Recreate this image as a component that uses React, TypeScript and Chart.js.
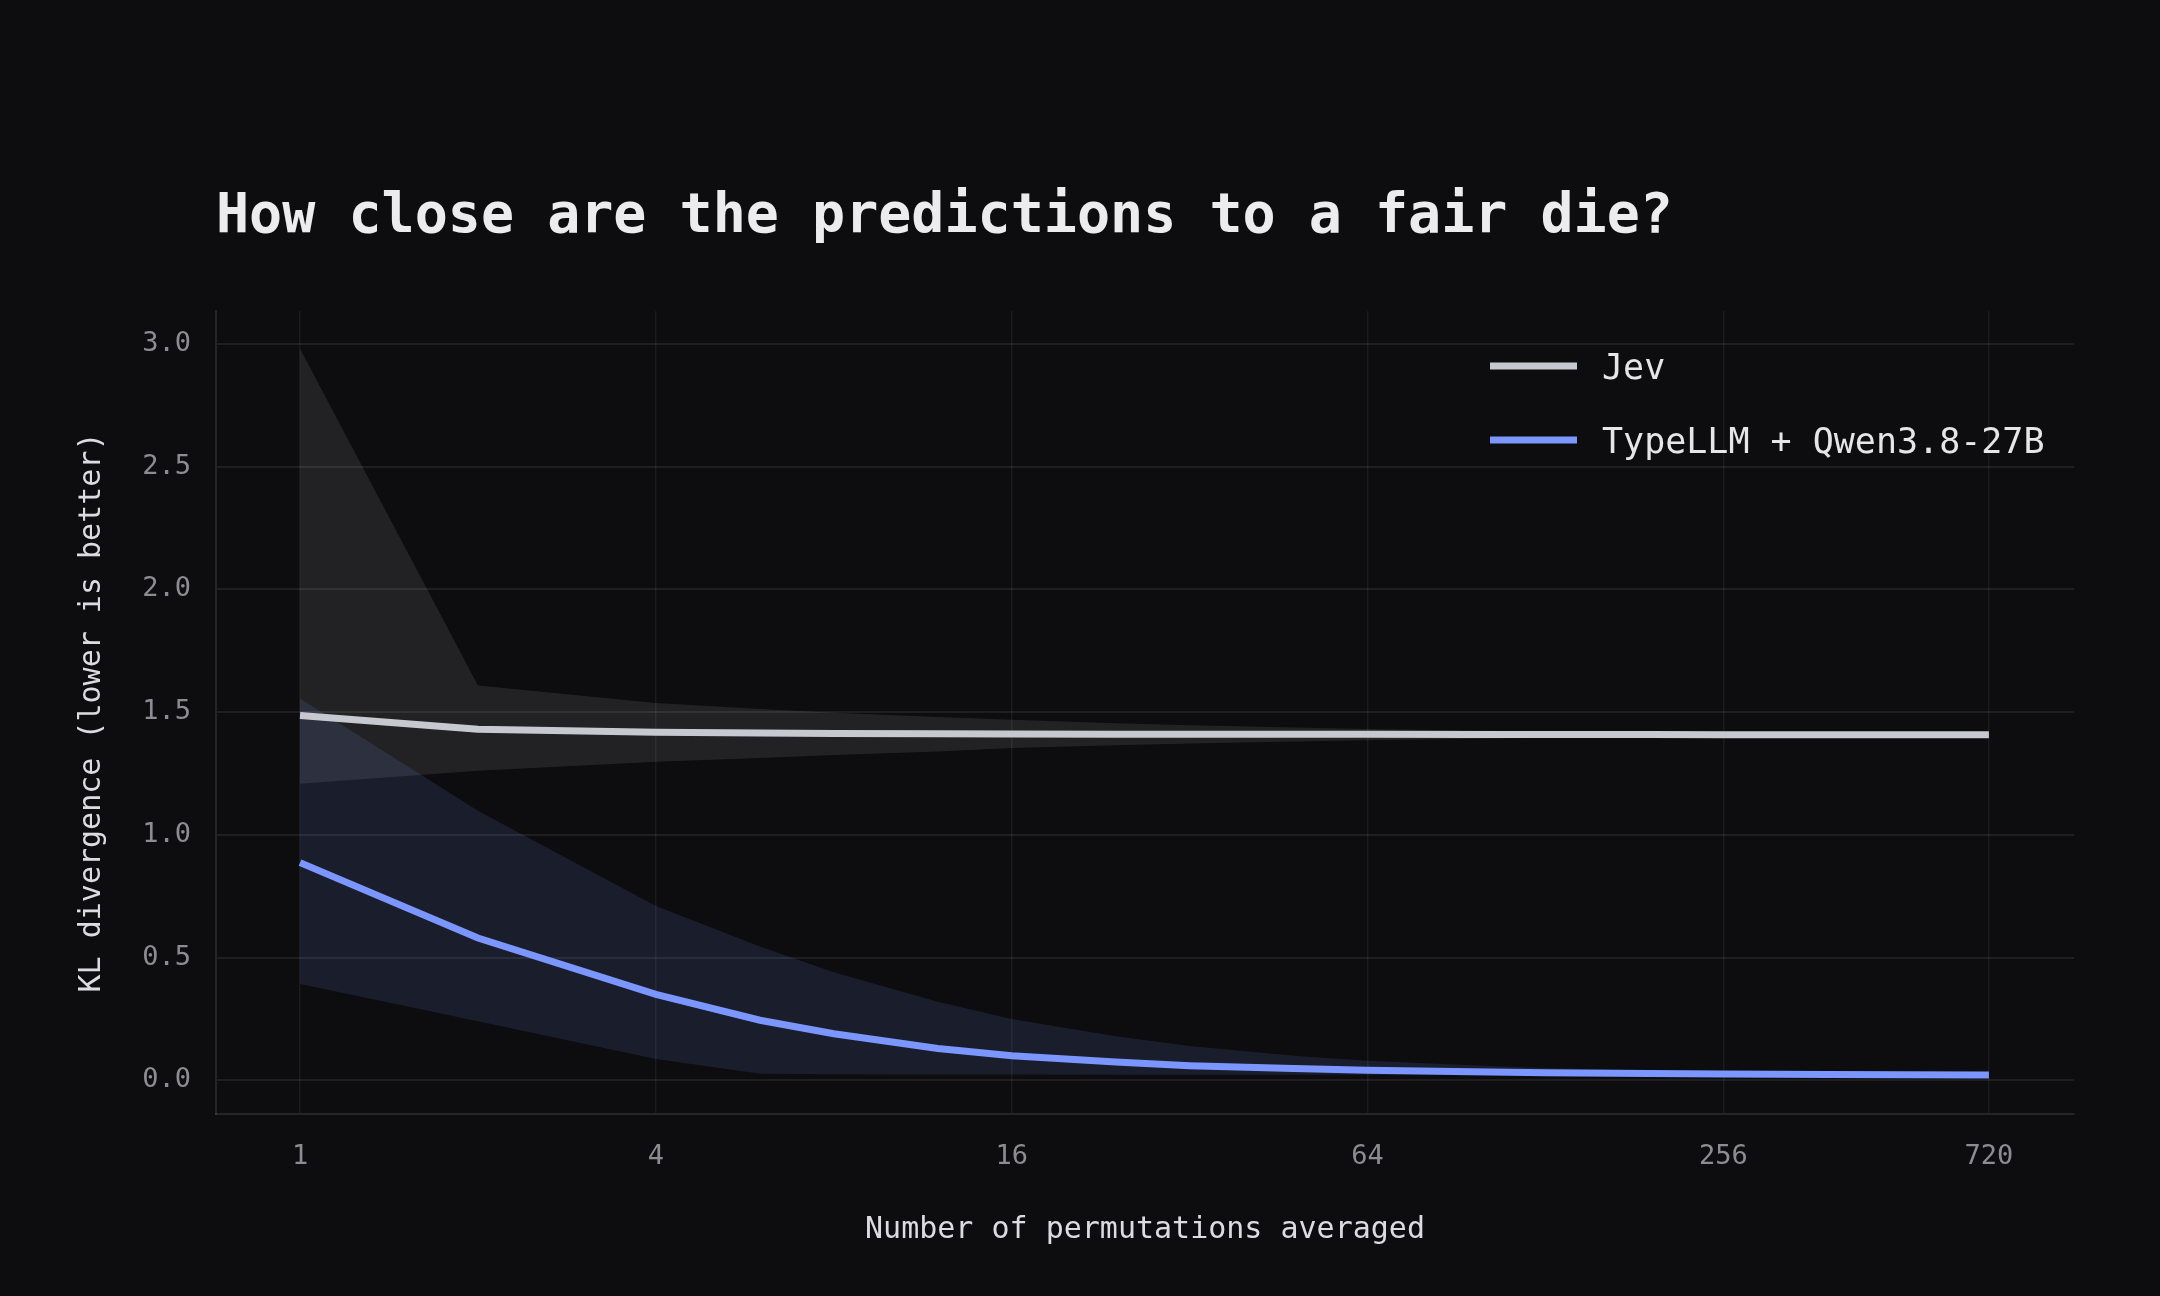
import React, { useEffect, useRef } from 'react';
import { Chart, registerables } from 'chart.js';

Chart.register(...registerables);

const MONO = '"DejaVu Sans Mono", "Liberation Mono", monospace';

// data
const permutations = [1, 2, 4, 6, 8, 12, 16, 24, 32, 48, 64, 96, 128, 192, 256, 384, 512, 720];

const jevMean = [1.486, 1.43, 1.418, 1.415, 1.413, 1.412, 1.411, 1.41, 1.41, 1.41, 1.41, 1.409, 1.409, 1.409, 1.408, 1.408, 1.408, 1.408];
const jevUpper = [2.98, 1.608, 1.537, 1.513, 1.497, 1.48, 1.469, 1.455, 1.447, 1.437, 1.431, 1.425, 1.421, 1.417, 1.415, 1.412, 1.41, 1.408];
const jevLower = [1.208, 1.261, 1.298, 1.313, 1.325, 1.34, 1.354, 1.365, 1.372, 1.38, 1.385, 1.392, 1.396, 1.4, 1.402, 1.405, 1.406, 1.408];

const qwenMean = [0.887, 0.58, 0.35, 0.245, 0.19, 0.13, 0.1, 0.075, 0.06, 0.048, 0.041, 0.035, 0.031, 0.028, 0.026, 0.024, 0.023, 0.022];
const qwenUpper = [1.556, 1.098, 0.71, 0.545, 0.44, 0.32, 0.25, 0.18, 0.14, 0.1, 0.08, 0.062, 0.05, 0.04, 0.034, 0.028, 0.025, 0.022];
const qwenLower = [0.393, 0.241, 0.087, 0.027, 0.025, 0.024, 0.024, 0.023, 0.023, 0.023, 0.023, 0.022, 0.022, 0.022, 0.022, 0.022, 0.022, 0.022];

const xTicks = [1, 4, 16, 64, 256, 720];
const yTicks = [0, 0.5, 1, 1.5, 2, 2.5, 3];

const seriesNames = ['Jev', 'TypeLLM + Qwen3.8-27B'];
const seriesColors = ['#c8c8d0', '#7b96ff'];

const title = 'How close are the predictions to a fair die?';

const pts = (ys: number[]) => permutations.map((x, i) => ({ x, y: ys[i] }));

// title + legend drawn on the canvas, aligned to the chart area
const overlayPlugin = {
  id: 'overlay',
  afterDraw(chart: Chart) {
    const { ctx, chartArea } = chart;
    ctx.save();
    ctx.fillStyle = '#ececee';
    ctx.font = `bold 55px ${MONO}`;
    ctx.textAlign = 'left';
    ctx.textBaseline = 'alphabetic';
    ctx.fillText(title, chartArea.left, 232);

    const swX = 1490;
    const swW = 87;
    const rowY = [366, 440];
    ctx.font = `35px ${MONO}`;
    seriesNames.forEach((name, i) => {
      ctx.fillStyle = seriesColors[i];
      ctx.fillRect(swX, rowY[i] - 3.5, swW, 7);
      ctx.fillStyle = '#e6e6e8';
      ctx.fillText(name, 1602, rowY[i] + 13);
    });
    ctx.restore();
  },
};

const App: React.FC = () => {
  const canvasRef = useRef<HTMLCanvasElement>(null);

  useEffect(() => {
    if (!canvasRef.current) return;
    const chart = new Chart(canvasRef.current, {
      type: 'line',
      data: {
        datasets: [
          { label: seriesNames[0], data: pts(jevMean), borderColor: seriesColors[0], borderWidth: 7, pointRadius: 0, fill: false },
          { label: seriesNames[1], data: pts(qwenMean), borderColor: seriesColors[1], borderWidth: 7, pointRadius: 0, fill: false },
          { label: 'qwen upper', data: pts(qwenUpper), borderWidth: 0, pointRadius: 0, fill: '+1', backgroundColor: 'rgba(124, 150, 255, 0.12)' },
          { label: 'qwen lower', data: pts(qwenLower), borderWidth: 0, pointRadius: 0, fill: false },
          { label: 'jev upper', data: pts(jevUpper), borderWidth: 0, pointRadius: 0, fill: '+1', backgroundColor: 'rgba(255, 255, 255, 0.09)' },
          { label: 'jev lower', data: pts(jevLower), borderWidth: 0, pointRadius: 0, fill: false },
        ],
      },
      options: {
        responsive: true,
        maintainAspectRatio: false,
        animation: false,
        layout: { padding: { top: 311, right: 86, bottom: 0, left: 0 } },
        plugins: {
          legend: { display: false },
          title: { display: false },
          tooltip: { enabled: false },
        },
        scales: {
          x: {
            type: 'logarithmic',
            bounds: 'data',
            min: 0.7208,
            max: 1003,
            afterBuildTicks: (scale: any) => {
              scale.ticks = xTicks.map(v => ({ value: v }));
              scale.min = 0.7208;
              scale.max = 1003;
            },
            afterFit: (scale: any) => {
              scale.height = 182;
            },
            ticks: {
              autoSkip: false,
              maxRotation: 0,
              padding: 27,
              color: '#8c8c94',
              font: { family: MONO, size: 27 },
              callback: (v: any) => String(v),
            },
            grid: { color: 'rgba(255, 255, 255, 0.06)', lineWidth: 1.5, drawTicks: false },
            border: { display: true, color: 'rgba(255, 255, 255, 0.1)', width: 2 },
            title: {
              display: true,
              text: 'Number of permutations averaged',
              color: '#dcdce0',
              font: { family: MONO, size: 30 },
              padding: { top: 0, bottom: 48 },
            },
          },
          y: {
            type: 'linear',
            min: -0.137,
            max: 3.134,
            afterBuildTicks: (scale: any) => {
              scale.ticks = yTicks.map(v => ({ value: v }));
              scale.min = -0.137;
              scale.max = 3.134;
            },
            afterFit: (scale: any) => {
              scale.width = 216;
            },
            ticks: {
              padding: 25,
              color: '#8c8c94',
              font: { family: MONO, size: 27 },
              callback: (v: any) => Number(v).toFixed(1),
            },
            grid: { color: 'rgba(255, 255, 255, 0.08)', lineWidth: 2, drawTicks: false },
            border: { display: true, color: 'rgba(255, 255, 255, 0.1)', width: 2 },
            title: {
              display: true,
              text: 'KL divergence (lower is better)',
              color: '#dcdce0',
              font: { family: MONO, size: 30 },
              padding: { top: 74, bottom: 0 },
            },
          },
        },
      },
      plugins: [overlayPlugin],
    });
    return () => chart.destroy();
  }, []);

  return (
    <div style={{ position: 'fixed', left: 0, top: 0, width: 2160, height: 1296, background: '#0d0d0f' }}>
      <canvas ref={canvasRef} />
    </div>
  );
};

export default App;
